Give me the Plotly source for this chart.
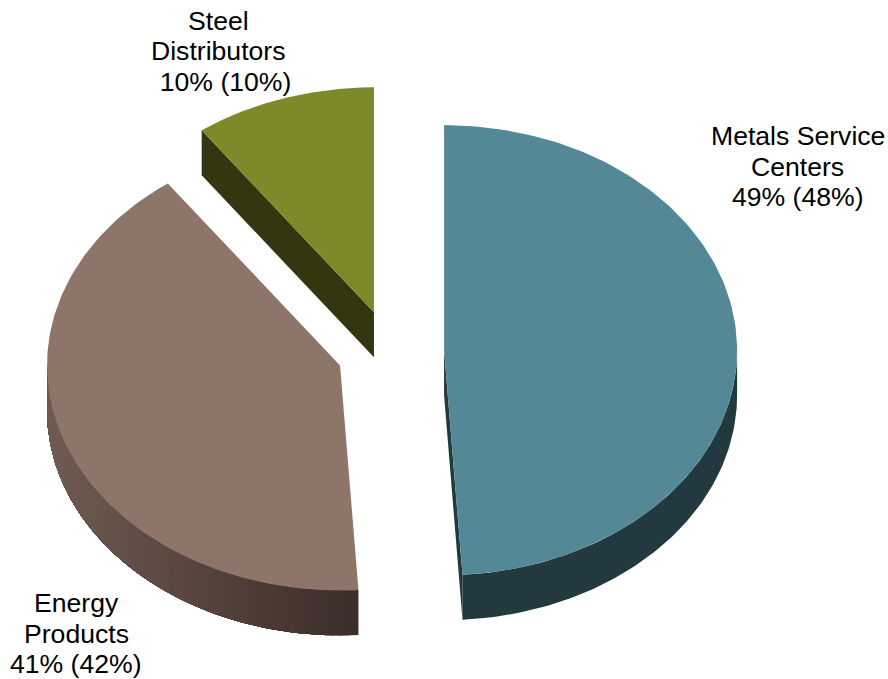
import numpy as np
import plotly.graph_objects as go

# Sales mix by segment: current share, with the prior share in parentheses
segments = [["Metals Service", "Centers"], ["Energy", "Products"], ["Steel", "Distributors"]]
current_share = [49, 41, 10]
prior_share = [48, 42, 10]

top_colors = ["#558896", "#8E756A", "#7E892A"]
side_colors = ["#22393F", None, "#353610"]
wall_light, wall_dark = (112, 92, 83), (60, 46, 41)

# Projection of the tilted disc onto the page
CX, CY = 390.5, 351.5
RX, RY = 293.0, 225.0
DEPTH = 45.0
PULL = 0.183

label_x = [797.5, 76, 218]
label_top = [136, 603, 20.5]
LINE_STEP = 30.5


def rim(center, angle_from, angle_to, n=160):
    t = np.radians(np.linspace(angle_from, angle_to, n))
    return center[0] + RX * np.sin(t), center[1] - RY * np.cos(t)


def polygon(x, y, color):
    return go.Scatter(
        x=list(x) + [x[0]], y=list(y) + [y[0]], mode="lines", fill="toself",
        fillcolor=color, line=dict(width=0),
        hoverinfo="skip", showlegend=False,
    )


def wall(apex, a, b, color):
    xs, ys = rim(apex, a, b, 120)
    return polygon(np.r_[xs, xs[::-1]], np.r_[ys, ys[::-1] + DEPTH], color)


fig = go.Figure()
start = 0.0
for i, share in enumerate(current_share):
    end = start + share * 3.6
    mid = np.radians((start + end) / 2)
    apex = (CX + PULL * RX * np.sin(mid), CY - PULL * RY * np.cos(mid))

    # Outer wall on the near half of the rim
    lo, hi = max(start, 90.0), min(end, 270.0)
    if hi > lo:
        if side_colors[i]:
            fig.add_trace(wall(apex, lo, hi, side_colors[i]))
        else:
            # Painted in overlapping layers, lightening toward the left-hand end
            for a in np.linspace(lo, hi, 60, endpoint=False):
                f = (np.sin(np.radians(a)) + 1) / 1.06
                c = [int(l + (d - l) * min(f, 1)) for l, d in zip(wall_light, wall_dark)]
                fig.add_trace(wall(apex, a, hi, "rgb(%d,%d,%d)" % tuple(c)))

    # Radial cut face that turns toward the viewer
    if side_colors[i]:
        edge = end if i == 0 else start
        ex, ey = rim(apex, edge, edge, 1)
        fig.add_trace(polygon(
            [apex[0], ex[0], ex[0], apex[0]],
            [apex[1], ey[0], ey[0] + DEPTH, apex[1] + DEPTH],
            side_colors[i]))

    # Top surface of the slice
    xs, ys = rim(apex, start, end)
    fig.add_trace(polygon(np.r_[apex[0], xs], np.r_[apex[1], ys], top_colors[i]))
    start = end

for i, name in enumerate(segments):
    pad = "&nbsp;&nbsp;" if i == 2 else ""
    lines = name + [f"{pad}{current_share[i]}% ({prior_share[i]}%)"]
    for row, text in enumerate(lines):
        fig.add_annotation(
            x=label_x[i], y=label_top[i] + row * LINE_STEP, xref="x", yref="y",
            text=text, showarrow=False, xanchor="center", yanchor="middle",
            font=dict(family="Liberation Sans, Arial, sans-serif", size=26.6, color="#000000"),
        )

fig.update_xaxes(range=[0, 888], visible=False, fixedrange=True)
fig.update_yaxes(range=[679, 0], visible=False, fixedrange=True)
fig.update_layout(
    width=888, height=679, margin=dict(l=0, r=0, t=0, b=0),
    paper_bgcolor="white", plot_bgcolor="white", showlegend=False,
)
fig.write_html("out.html", config=dict(displayModeBar=False))
